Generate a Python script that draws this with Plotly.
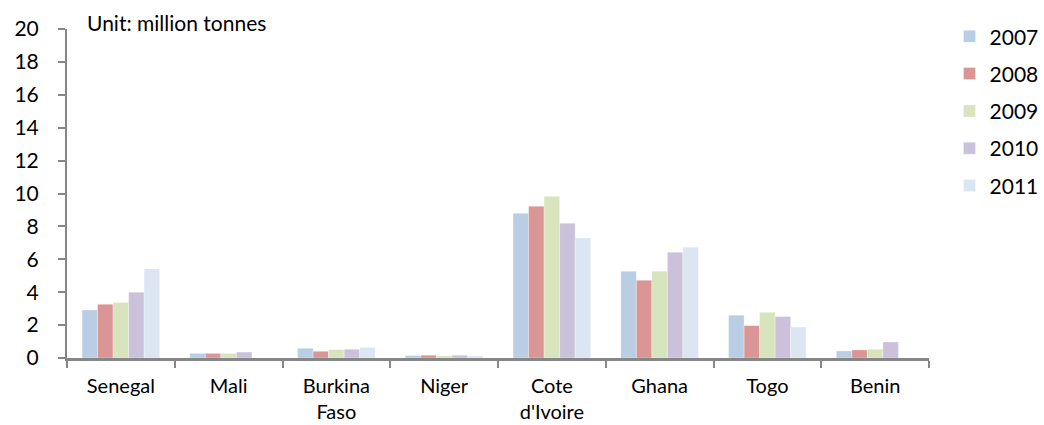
import plotly.graph_objects as go

countries = ["Senegal", "Mali", "Burkina<br>Faso", "Niger", "Cote<br>d'Ivoire", "Ghana", "Togo", "Benin"]
years = ["2007", "2008", "2009", "2010", "2011"]

v2007 = [2.92, 0.28, 0.59, 0.15, 8.80, 5.27, 2.60, 0.43]
v2008 = [3.26, 0.28, 0.41, 0.17, 9.22, 4.72, 1.97, 0.49]
v2009 = [3.37, 0.28, 0.51, 0.13, 9.83, 5.27, 2.78, 0.53]
v2010 = [4.00, 0.36, 0.53, 0.17, 8.19, 6.43, 2.52, 0.97]
v2011 = [5.41, 0.00, 0.65, 0.13, 7.30, 6.73, 1.88, 0.00]

series = [v2007, v2008, v2009, v2010, v2011]
colors = ["#B9CDE5", "#D99694", "#D7E4BD", "#CCC1DA", "#DCE6F2"]

font_family = "Lato, Carlito, 'Liberation Sans', sans-serif"

fig = go.Figure()
for yr, vals, col in zip(years, series, colors):
    fig.add_trace(go.Bar(
        x=countries, y=vals, name=yr, legendgroup=yr,
        marker=dict(color=col, line=dict(color="rgba(255,255,255,0.6)", width=0.5)),
    ))

fig.update_layout(
    width=1044, height=425,
    margin=dict(l=67, r=115, t=29, b=67, pad=0, autoexpand=False),
    paper_bgcolor="white", plot_bgcolor="white",
    barmode="group", bargap=0.28, bargroupgap=0,
    font=dict(family=font_family, color="black"),
    showlegend=True,
    legend=dict(
        x=1.0238, y=1.039, xanchor="left", yanchor="top",
        font=dict(size=21, family=font_family),
        tracegroupgap=7, itemwidth=30,
        bgcolor="rgba(0,0,0,0)",
    ),
    annotations=[dict(
        text="Unit: million tonnes", x=0.021, y=1.021, xref="paper", yref="paper",
        xanchor="left", yanchor="middle", showarrow=False,
        font=dict(size=21, family=font_family),
    )],
)

fig.update_yaxes(
    range=[0, 20], dtick=2, showgrid=False, zeroline=False,
    showline=True, linecolor="#868686", linewidth=2,
    ticks="outside", ticklen=7, tickcolor="#868686", tickwidth=2,
    tickfont=dict(size=21, family=font_family), ticklabelstandoff=15,
)
fig.update_xaxes(
    showgrid=False, showline=True, linecolor="#868686", linewidth=3,
    ticks="outside", ticklen=7, tickcolor="#868686", tickwidth=2,
    tickson="boundaries", ticklabelstandoff=8,
    tickfont=dict(size=20, family=font_family),
)

fig.write_html("out.html")
